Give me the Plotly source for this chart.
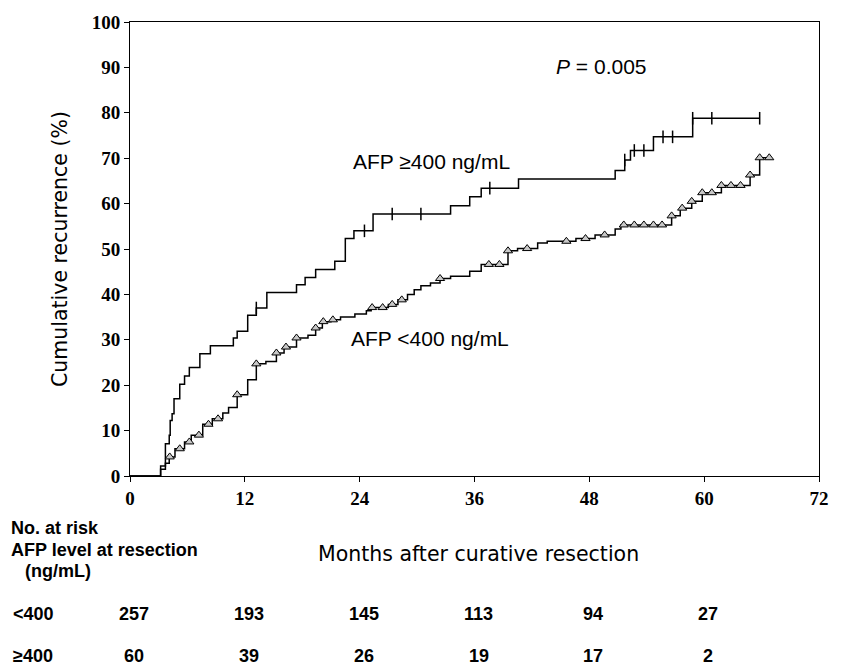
import plotly.graph_objects as go
import numpy as np

# AFP >= 400 ng/mL: step times (months) and cumulative recurrence (%)
hi_t = [0, 3.2, 3.7, 4.1, 4.2, 4.4, 4.6, 5.2, 5.7, 6.2, 7.3, 8.4, 10.8, 11.2, 12.3, 13.2,
        14.3, 17.4, 18.3, 19.4, 21.4, 22.5, 23.4, 25.4, 33.5, 35.5, 36.7, 40.6, 50.7,
        51.7, 52.3, 54.7, 58.8]
hi_v = [0, 2.2, 7.1, 9.0, 12.2, 13.7, 17.0, 20.2, 22.0, 23.9, 26.9, 28.7, 30.4, 31.9, 35.4, 37.0,
        40.4, 42.1, 43.7, 45.5, 47.3, 52.3, 54.0, 57.7, 59.5, 61.5, 63.4, 65.4, 67.3,
        69.6, 71.7, 74.7, 78.8]
hi_end = 65.8
hi_cens = [13.2, 24.5, 27.4, 30.4, 37.6, 51.7, 52.7, 53.7, 55.7, 56.7, 58.8, 60.8, 65.8]

# AFP < 400 ng/mL
lo_t = [0, 3.2, 3.7, 4.1, 4.7, 5.7, 6.4, 7.6, 8.6, 9.7, 10.3, 11.2, 12.3, 13.2, 14.2,
        15.3, 16.1, 17.4, 18.6, 19.4, 20.1, 21.0, 22.0, 23.5, 24.7, 25.2, 27.0, 28.0,
        29.0, 29.7, 30.4, 31.4, 32.4, 33.5, 35.5, 36.7, 39.5, 40.5, 42.6, 43.6, 46.6,
        48.6, 50.7, 51.3, 56.6, 57.5, 58.7, 59.8, 61.8, 64.8, 65.8]
lo_v = [0, 1.5, 2.8, 4.2, 6.0, 7.5, 9.0, 11.4, 12.6, 13.9, 15.1, 17.9, 21.2, 24.7, 25.2,
        27.1, 28.4, 30.4, 31.0, 32.6, 34.0, 34.4, 35.0, 35.7, 36.4, 37.1, 37.8, 38.8,
        40.0, 41.0, 41.9, 42.5, 43.5, 44.0, 45.1, 46.6, 49.6, 50.1, 51.3, 51.7, 52.3,
        53.1, 54.4, 55.3, 57.3, 59.0, 60.5, 62.4, 64.0, 66.3, 70.1]
lo_end = 66.8
lo_cens = [4.15, 5.2, 6.2, 7.2, 8.2, 9.2, 11.2, 13.2, 15.3, 16.3, 17.4, 19.4, 20.2, 21.2,
           25.3, 26.4, 27.4, 28.4, 32.4, 37.5, 38.6, 39.5, 41.5, 45.6, 47.6, 49.6, 51.6,
           52.7, 53.7, 54.7, 55.6, 56.6, 57.7, 58.7, 59.8, 60.8, 61.8, 62.8, 63.8, 64.8,
           65.8, 66.8]

# Number at risk table
risk_times = [0, 12, 24, 36, 48, 60]
risk_lo = [257, 193, 145, 113, 94, 27]
risk_hi = [60, 39, 26, 19, 17, 2]

x_ticks = [0, 12, 24, 36, 48, 60, 72]
y_ticks = list(range(0, 101, 10))


def step_value(ts, vs, t):
    idx = np.searchsorted(np.array(ts), t, side="right") - 1
    return vs[max(idx, 0)]


fig = go.Figure()
for ts, vs, end in [(hi_t, hi_v, hi_end), (lo_t, lo_v, lo_end)]:
    fig.add_trace(go.Scatter(x=ts + [end], y=vs + [vs[-1]], mode="lines",
                             line=dict(color="black", width=1.5, shape="hv"),
                             showlegend=False, hoverinfo="skip"))

fig.add_trace(go.Scatter(x=hi_cens, y=[step_value(hi_t, hi_v, t) for t in hi_cens],
                         mode="markers",
                         marker=dict(symbol="line-ns", size=9,
                                     line=dict(color="black", width=1.5)),
                         showlegend=False))
fig.add_trace(go.Scatter(x=lo_cens, y=[step_value(lo_t, lo_v, t) for t in lo_cens],
                         mode="markers",
                         marker=dict(symbol="triangle-up", size=8, color="#c8c8c8",
                                     line=dict(color="black", width=1)),
                         showlegend=False))

tickfont = dict(family="Liberation Serif", size=19, color="black", weight="bold")
fig.update_xaxes(range=[0, 72], tickvals=x_ticks, ticks="outside", ticklen=5,
                 tickwidth=1, tickcolor="black", showline=True, linecolor="black",
                 linewidth=1, mirror=True, showgrid=False, zeroline=False,
                 tickfont=tickfont)
fig.update_yaxes(range=[0, 100], tickvals=y_ticks, ticks="outside", ticklen=5,
                 tickwidth=1, tickcolor="black", showline=True, linecolor="black",
                 linewidth=1, mirror=True, showgrid=False, zeroline=False,
                 tickfont=tickfont,
                 title=dict(text="Cumulative recurrence (%)",
                            font=dict(family="DejaVu Sans", size=20.5, color="black"),
                            standoff=18))

ann_font = dict(family="Liberation Sans", size=21, color="black")
fig.add_annotation(x=49.3, y=90.1, text="<i>P</i> = 0.005", showarrow=False, font=ann_font)
fig.add_annotation(x=31.5, y=69.2, text="AFP \u2265400 ng/mL", showarrow=False, font=ann_font)
fig.add_annotation(x=31.4, y=30.3, text="AFP &lt;400 ng/mL", showarrow=False, font=ann_font)

PH = 458.0
def py(p):
    return (476 - p) / PH

fig.add_annotation(x=(481 - 130) / 694, y=py(555), xref="paper", yref="paper",
                   yanchor="middle", text="Months after curative resection", showarrow=False,
                   font=dict(family="DejaVu Sans", size=20.5, color="black"))

bold = dict(family="Liberation Sans", size=18, color="black")
for txt, xpx, ypx in [("No. at risk", 8, 528), ("AFP level at resection", 8, 551),
                      ("(ng/mL)", 22, 572), ("&lt;400", 10, 615), ("\u2265400", 10, 658)]:
    fig.add_annotation(x=(xpx - 130) / 694, y=py(ypx), xref="paper", yref="paper",
                       xanchor="left", yanchor="middle", text="<b>" + txt + "</b>",
                       showarrow=False, font=bold)
for row, ypx in [(risk_lo, 615), (risk_hi, 658)]:
    for t, n in zip(risk_times, row):
        fig.add_annotation(x=t, y=py(ypx), xref="x", yref="paper", xshift=4,
                           yanchor="middle", text="<b>%d</b>" % n, showarrow=False,
                           font=bold)

fig.update_layout(width=841, height=667, margin=dict(l=130, r=17, t=18, b=191),
                  plot_bgcolor="white", paper_bgcolor="white")
fig.write_html("out.html", config={"displayModeBar": False},
               post_script="document.body.style.margin='0';"
                           "document.body.style.overflow='hidden';")
